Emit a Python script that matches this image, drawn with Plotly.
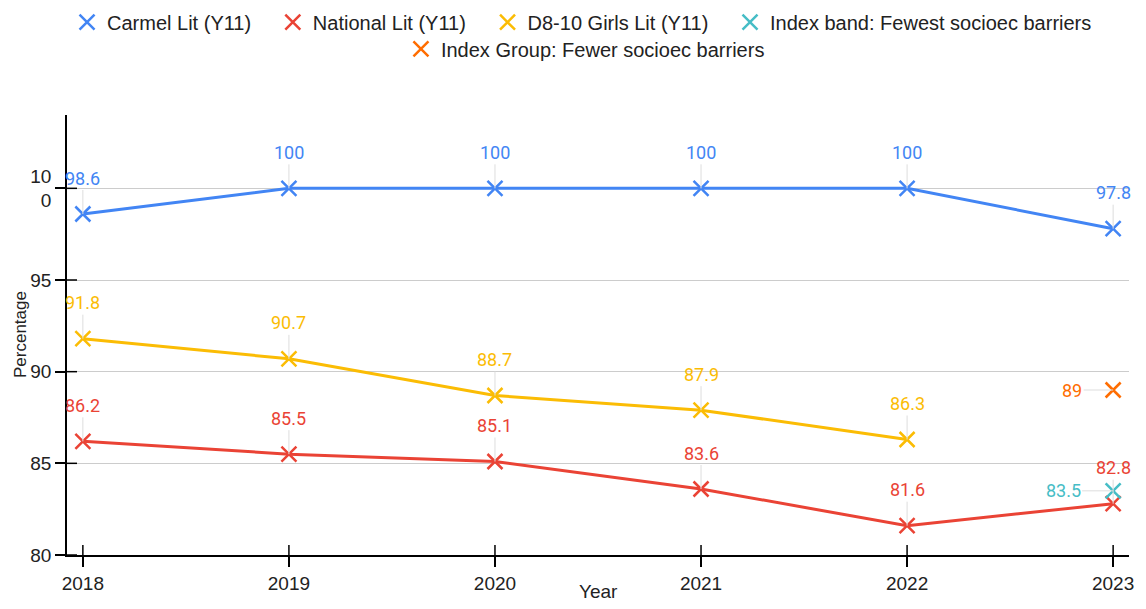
import plotly.graph_objects as go

# data
years = [2018, 2019, 2020, 2021, 2022, 2023]
carmel_lit = [98.6, 100, 100, 100, 100, 97.8]
national_lit = [86.2, 85.5, 85.1, 83.6, 81.6, 82.8]
girls_lit = [91.8, 90.7, 88.7, 87.9, 86.3, None]
index_band_years = [2023]
index_band = [83.5]
index_group_years = [2023]
index_group = [89]
y_ticks = [80, 85, 90, 95, 100]
y_ticktext = ["80", "85", "90", "95", "10<br>0"]

series = [
    ("Carmel Lit (Y11)", years, carmel_lit, "#4285F4", True),
    ("National Lit (Y11)", years, national_lit, "#EA4335", True),
    ("D8-10 Girls Lit (Y11)", years, girls_lit, "#FBBC04", True),
    ("Index band: Fewest socioec barriers", index_band_years, index_band, "#46BDC6", False),
    ("Index Group: Fewer socioec barriers", index_group_years, index_group, "#FF6D01", False),
]
# label offsets (px) for each series: above the point, or to the left
label_offsets = [(0, -36), (0, -36), (0, -36), (-50, 0), (-41, 0)]

fig = go.Figure()
annotations = []
pad = "\u00a0" * 3  # wider gaps between legend entries
for i, (name, xs, ys, color, is_line) in enumerate(series):
    if is_line:
        fig.add_trace(go.Scatter(
            x=xs, y=ys, mode="lines", line=dict(color=color, width=3),
            showlegend=False, hoverinfo="skip", legendgroup=name,
        ))
    fig.add_trace(go.Scatter(
        x=xs, y=ys, mode="markers", name=name + (pad if i < 3 else ""), legendgroup=name,
        marker=dict(symbol="x-thin", size=15, color=color,
                    line=dict(color=color, width=2.5)),
        legend="legend2" if i == 4 else "legend",
    ))
    ax, ay = label_offsets[i]
    for x, y in zip(xs, ys):
        if y is None:
            continue
        annotations.append(dict(
            x=x, y=y, xref="x", yref="y", text=f"{y:g}",
            showarrow=True, arrowhead=0, arrowwidth=1, arrowcolor="#dddddd",
            ax=ax, ay=ay, standoff=0,
            font=dict(family="Roboto", size=18, color=color),
        ))

# axis titles as annotations so they can sit where the reference has them
annotations.append(dict(text="Percentage", xref="paper", yref="paper", x=0, y=0.5,
                        xshift=-47, xanchor="center", yanchor="middle",
                        textangle=-90, showarrow=False,
                        font=dict(size=17, color="#222222")))
annotations.append(dict(text="Year", xref="paper", yref="paper", x=0.5, y=0,
                        yshift=-36, xanchor="center", yanchor="middle", showarrow=False,
                        font=dict(size=19, color="#222222")))

# inside halves of the crossing tick marks
shapes = []
for v in y_ticks:
    shapes.append(dict(type="line", xref="paper", yref="y", xsizemode="pixel", xanchor=0,
                       x0=0, x1=10, y0=v, y1=v, line=dict(color="black", width=1.5)))
for yr in years:
    shapes.append(dict(type="line", xref="x", yref="paper", ysizemode="pixel", yanchor=0,
                       x0=yr, x1=yr, y0=0, y1=10, line=dict(color="black", width=1.5)))

# the page body adds an 8px margin all round, so the figure is 16px smaller
fig.update_layout(
    width=1130, height=593,
    margin=dict(l=59, r=4, t=107, b=46),
    paper_bgcolor="white", plot_bgcolor="white",
    font=dict(family="Liberation Sans", size=19, color="#222222"),
    annotations=annotations,
    shapes=shapes,
    legend=dict(orientation="h", xref="container", yref="container",
                x=0.508, xanchor="center", y=0.976, yanchor="middle",
                bgcolor="rgba(0,0,0,0)",
                font=dict(size=20, color="#222222"), itemclick=False),
    legend2=dict(orientation="h", xref="container", yref="container",
                 x=0.511, xanchor="center", y=0.931, yanchor="middle",
                 bgcolor="rgba(0,0,0,0)",
                 font=dict(size=20, color="#222222"), itemclick=False),
    xaxis=dict(
        range=[2017.923, 2023.077], tickvals=years, ticktext=[str(y) for y in years],
        showgrid=False, zeroline=False, showline=True, linecolor="black", linewidth=1.5,
        ticks="outside", ticklen=10, tickwidth=1.5, tickcolor="black",
        ticklabelstandoff=0, ticklabeloverflow="allow",
        tickfont=dict(size=19, color="#222222"),
    ),
    yaxis=dict(
        range=[80, 104], tickvals=y_ticks, ticktext=y_ticktext,
        showgrid=True, gridcolor="#cccccc", gridwidth=1, zeroline=False,
        showline=True, linecolor="black", linewidth=1.5,
        ticks="outside", ticklen=10, tickwidth=1.5, tickcolor="black",
        ticklabelstandoff=0, tickfont=dict(size=19, color="#222222"),
    ),
)

fig.write_html("out.html")
